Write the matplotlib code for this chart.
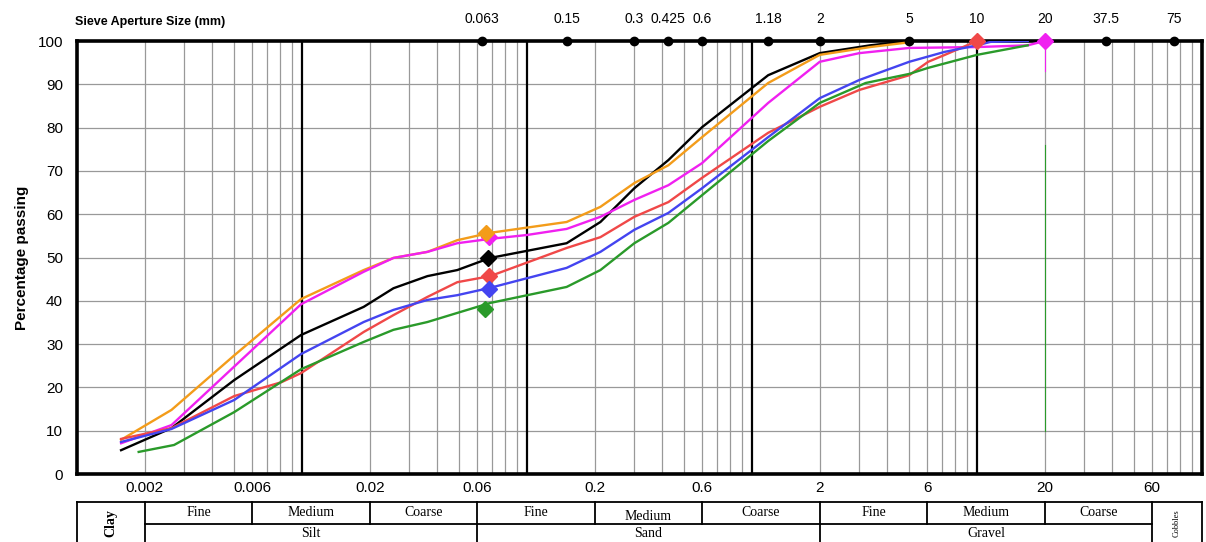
import numpy as np
import matplotlib
matplotlib.use('Agg')
import matplotlib.pyplot as plt

plt.rcParams['font.family'] = ['Liberation Sans', 'DejaVu Sans']

# particle size (mm) / percentage passing for each sample
x_black = [0.00157, 0.00263, 0.005, 0.0099, 0.0188, 0.0255, 0.0361, 0.049, 0.0686, 0.15, 0.212, 0.3, 0.425, 0.6, 1.18, 2, 3.35, 5]
y_black = [5.5, 10.6, 21.7, 32.1, 38.6, 42.9, 45.7, 47.1, 49.9, 53.3, 58.2, 66.0, 72.5, 80.1, 92.1, 97.2, 99.0, 100]

x_orange = [0.00157, 0.00263, 0.005, 0.0099, 0.0188, 0.0255, 0.0361, 0.049, 0.0686, 0.15, 0.212, 0.3, 0.425, 0.6, 1.18, 2, 3.35, 5]
y_orange = [7.9, 14.8, 27.4, 40.4, 47.1, 49.9, 51.3, 54.0, 55.7, 58.2, 61.7, 67.2, 71.3, 77.8, 90.3, 96.8, 98.6, 99.7]

x_magenta = [0.00157, 0.00263, 0.0099, 0.0188, 0.0255, 0.0361, 0.049, 0.0686, 0.1, 0.15, 0.212, 0.3, 0.425, 0.6, 1.18, 2, 3, 5, 10, 16.8, 20]
y_magenta = [7.1, 11.3, 39.2, 46.7, 49.9, 51.3, 53.3, 54.3, 55.2, 56.6, 59.4, 63.3, 66.7, 71.8, 85.7, 95.2, 97.2, 98.4, 98.6, 99.0, 100]

x_red = [0.00157, 0.00263, 0.005, 0.0081, 0.0099, 0.0188, 0.0255, 0.0361, 0.049, 0.0686, 0.15, 0.212, 0.3, 0.425, 0.6, 1.18, 2, 3, 5, 6.07, 7.2, 10]
y_red = [8.1, 10.6, 18.0, 21.2, 23.3, 32.8, 36.7, 40.9, 44.3, 45.7, 52.2, 54.7, 59.4, 62.8, 68.4, 78.8, 84.8, 88.7, 92.1, 95.2, 96.8, 100]

x_blue = [0.00157, 0.00263, 0.005, 0.0099, 0.0188, 0.0255, 0.0361, 0.049, 0.0686, 0.15, 0.212, 0.3, 0.425, 0.6, 1.18, 2, 3, 5, 7.2, 10, 11.5, 16.8]
y_blue = [7.4, 10.4, 17.1, 27.7, 35.1, 37.9, 40.2, 41.3, 43.0, 47.6, 51.3, 56.4, 60.3, 66.0, 77.8, 86.8, 91.0, 95.2, 97.5, 99.0, 99.8, 100]

x_green = [0.00188, 0.0027, 0.005, 0.0099, 0.0188, 0.0255, 0.0361, 0.049, 0.0686, 0.15, 0.212, 0.3, 0.425, 0.6, 1.18, 2, 3.2, 5, 6.07, 10, 16.8]
y_green = [5.1, 6.7, 14.3, 24.2, 30.5, 33.3, 35.1, 37.2, 39.5, 43.2, 47.1, 53.3, 58.0, 64.4, 76.9, 85.7, 90.3, 92.4, 93.8, 96.8, 99.0]

# diamond markers near 0.063 mm (magenta, orange, black, red, blue, green)
diamond_x = [0.068, 0.066, 0.067, 0.068, 0.068, 0.065]
diamond_y = [54.7, 55.7, 49.9, 45.7, 42.8, 38.0]

sieve_sizes = [0.063, 0.15, 0.3, 0.425, 0.6, 1.18, 2, 5, 10, 20, 37.5, 75]
sieve_labels = ['0.063', '0.15', '0.3', '0.425', '0.6', '1.18', '2', '5', '10', '20', '37.5', '75']

bottom_ticks = [0.002, 0.006, 0.02, 0.06, 0.2, 0.6, 2, 6, 20, 60]
bottom_labels = ['0.002', '0.006', '0.02', '0.06', '0.2', '0.6', '2', '6', '20', '60']

C_BLACK = 'black'
C_ORANGE = '#F39C1A'
C_MAGENTA = '#F020F0'
C_RED = '#F04848'
C_BLUE = '#4444F0'
C_GREEN = '#2A9A2A'

fig = plt.figure(figsize=(12.06, 5.42), dpi=100)
ax = fig.add_axes([77 / 1206, 68 / 542, 1125 / 1206, 433 / 542])
ax.set_xscale('log')
ax.set_xlim(0.001, 100)
ax.set_ylim(0, 100)

# grid: minor log lines grey, decade lines black
for dec in [0.001, 0.01, 0.1, 1, 10]:
    for m in range(2, 10):
        ax.axvline(dec * m, color='#999999', lw=0.9, zorder=1)
for dec in [0.01, 0.1, 1, 10]:
    ax.axvline(dec, color='black', lw=1.6, zorder=2)
for yy in range(10, 100, 10):
    ax.axhline(yy, color='#999999', lw=0.9, zorder=1)

# odd vertical marks at 20 mm
ax.plot([20, 20], [10, 76], color=C_GREEN, lw=0.8, zorder=3)
ax.plot([20, 20], [93, 100], color=C_MAGENTA, lw=0.8, zorder=3)

lw = 1.7
ax.plot(x_black, y_black, color=C_BLACK, lw=lw, zorder=4)
ax.plot(x_orange, y_orange, color=C_ORANGE, lw=lw, zorder=4)
ax.plot(x_magenta, y_magenta, color=C_MAGENTA, lw=lw, zorder=4)
ax.plot(x_red, y_red, color=C_RED, lw=lw, zorder=4)
ax.plot(x_blue, y_blue, color=C_BLUE, lw=lw, zorder=4)
ax.plot(x_green, y_green, color=C_GREEN, lw=lw, zorder=4)

diamond_colors = [C_MAGENTA, C_ORANGE, C_BLACK, C_RED, C_BLUE, C_GREEN]
for dx, dy, dc in zip(diamond_x, diamond_y, diamond_colors):
    ax.plot(dx, dy, marker='D', ms=8, color=dc, zorder=5)

# end markers on the top line
ax.plot(10, 100, marker='D', ms=8, color=C_RED, zorder=6, clip_on=False)
ax.plot(20, 100, marker='D', ms=8, color=C_MAGENTA, zorder=6, clip_on=False)
ax.plot(sieve_sizes, [100] * len(sieve_sizes), 'o', ms=6, color='black', zorder=5, clip_on=False)

for s in ax.spines.values():
    s.set_linewidth(2.6)

ax.set_yticks(range(0, 101, 10))
ax.tick_params(axis='y', length=0, pad=10, labelsize=11)
ax.set_xticks(bottom_ticks)
ax.set_xticklabels(bottom_labels)
ax.xaxis.set_minor_locator(matplotlib.ticker.NullLocator())
ax.tick_params(axis='x', length=0, pad=5, labelsize=11)
ax.set_ylabel('Percentage passing', fontsize=11, fontweight='bold', labelpad=6)

ax_top = ax.twiny()
ax_top.set_xscale('log')
ax_top.set_xlim(ax.get_xlim())
ax_top.set_xticks(sieve_sizes)
ax_top.set_xticklabels(sieve_labels)
ax_top.xaxis.set_minor_locator(matplotlib.ticker.NullLocator())
ax_top.tick_params(axis='x', length=0, pad=11, labelsize=10)
for s in ax_top.spines.values():
    s.set_visible(False)

fig.text(75 / 1206, 1 - 22 / 542, 'Sieve Aperture Size (mm)', fontsize=9, fontweight='bold', va='center')

# soil classification table under the chart
tr = ax.get_xaxis_transform()
y_top, y_mid, y_bot = -0.065, -0.115, -0.16
kw = dict(color='black', lw=1.3, transform=tr, clip_on=False)
ax.plot([0.001, 100], [y_top, y_top], **kw)
ax.plot([0.002, 60], [y_mid, y_mid], **kw)
for xb in [0.001, 0.002, 0.06, 2, 60, 100]:
    ax.plot([xb, xb], [y_top, y_bot], **kw)
for xb in [0.006, 0.02, 0.2, 0.6, 6, 20]:
    ax.plot([xb, xb], [y_top, y_mid], **kw)

serif = ['Liberation Serif', 'DejaVu Serif']
sub_cells = [(0.002, 0.006, 'Fine'), (0.006, 0.02, 'Medium'), (0.02, 0.06, 'Coarse'),
             (0.06, 0.2, 'Fine'), (0.2, 0.6, 'Medium'), (0.6, 2, 'Coarse'),
             (2, 6, 'Fine'), (6, 20, 'Medium'), (20, 60, 'Coarse')]
for a, b, t in sub_cells:
    dy = -0.008 if (t == 'Medium' and a == 0.2) else 0
    ax.text(np.sqrt(a * b), (y_top + y_mid) / 2 + dy, t, transform=tr, ha='center', va='center',
            fontsize=10, family=serif)
for a, b, t in [(0.002, 0.06, 'Silt'), (0.06, 2, 'Sand'), (2, 60, 'Gravel')]:
    ax.text(np.sqrt(a * b), (y_mid + y_bot) / 2, t, transform=tr, ha='center', va='center',
            fontsize=10, family=serif)
ax.text(np.sqrt(0.001 * 0.002), (y_top + y_bot) / 2, 'Clay', transform=tr, ha='center', va='center',
        rotation=90, fontsize=10, fontweight='bold', family=serif)
ax.text(np.sqrt(60 * 100), (y_top + y_bot) / 2, 'Cobbles', transform=tr, ha='center', va='center',
        rotation=90, fontsize=6, family=serif)

fig.savefig('out.png', dpi=100)
